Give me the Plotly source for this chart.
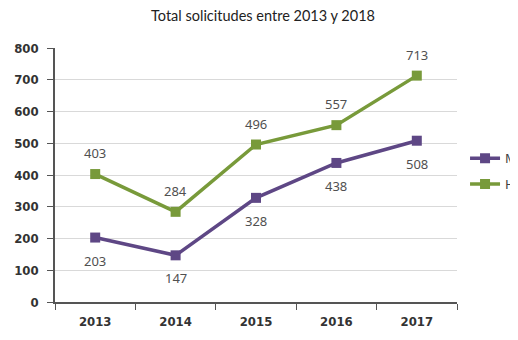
import plotly.graph_objects as go

years = ["2013", "2014", "2015", "2016", "2017"]
m_vals = [203, 147, 328, 438, 508]
h_vals = [403, 284, 496, 557, 713]
y_ticks = [0, 100, 200, 300, 400, 500, 600, 700, 800]
title_text = "Total solicitudes entre 2013 y 2018"

purple = "#5e4785"
green = "#789a3a"
label_font = dict(size=13, color="#505050", family="Noto Sans")
tick_font = dict(size=13, color="#333333", family="DejaVu Sans Condensed, DejaVu Sans", weight="bold")

fig = go.Figure()
fig.add_trace(go.Scatter(
    x=years, y=m_vals, name="M", mode="lines+markers", legendgroup="m",
    line=dict(color=purple, width=3.5),
    marker=dict(symbol="square", size=10, color=purple),
))
fig.add_trace(go.Scatter(
    x=years, y=h_vals, name="H", mode="lines+markers", legendgroup="h",
    line=dict(color=green, width=3.5),
    marker=dict(symbol="square", size=10, color=green),
))

annotations = []
for i, v in enumerate(m_vals):
    annotations.append(dict(x=i, y=v, text=str(v), showarrow=False, yshift=-23,
                            font=label_font, xref="x", yref="y"))
for i, v in enumerate(h_vals):
    annotations.append(dict(x=i, y=v, text=str(v), showarrow=False, yshift=21,
                            font=label_font, xref="x", yref="y"))

fig.update_layout(
    width=510, height=332,
    margin=dict(l=47, r=61, t=40, b=38, autoexpand=False),
    paper_bgcolor="white", plot_bgcolor="white",
    title=dict(text=title_text, x=0.5, xanchor="center", y=0.976, yanchor="middle",
               font=dict(size=14.5, color="#222222", family="Lato")),
    showlegend=True,
    legend=dict(x=1.02, xanchor="left", y=0.625, yanchor="top",
                font=dict(size=13, color="#404040", family="Noto Sans"),
                tracegroupgap=6, itemwidth=30, bgcolor="rgba(0,0,0,0)"),
    annotations=annotations,
    xaxis=dict(type="category", categoryorder="array", categoryarray=years,
               range=[-0.5, len(years) - 0.5], tickangle=0,
               tickson="boundaries", ticks="outside", ticklen=6,
               ticklabelstandoff=7,
               tickcolor="#555555", showline=True, linecolor="#555555", linewidth=1.5,
               showgrid=False, tickfont=tick_font, fixedrange=True),
    yaxis=dict(range=[0, 800], tickvals=y_ticks, ticks="outside", ticklen=6,
               ticklabelstandoff=6,
               tickcolor="#555555", showline=True, linecolor="#555555", linewidth=1.5,
               showgrid=True, gridcolor="#d9d9d9", gridwidth=1, zeroline=False,
               tickfont=tick_font, fixedrange=True),
)

fig.write_html("out.html")
